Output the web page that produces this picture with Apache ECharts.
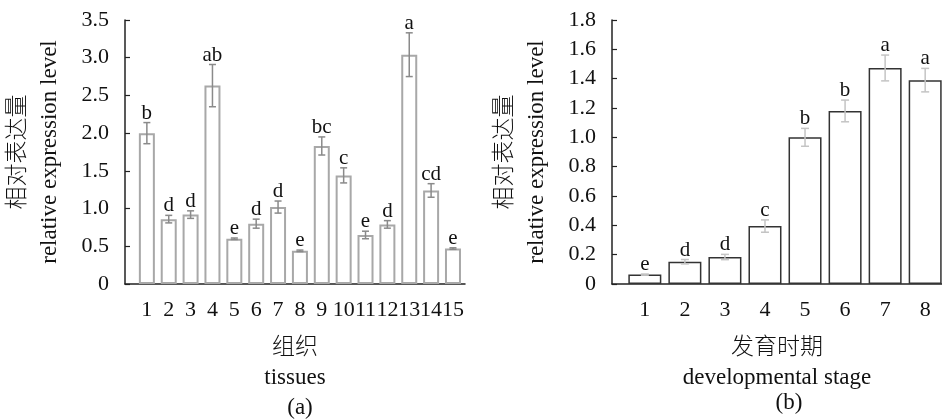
<!DOCTYPE html>
<html>
<head>
<meta charset="utf-8">
<script src="https://cdn.jsdelivr.net/npm/echarts@6/dist/echarts.min.js"></script>
<style>
  html, body { margin: 0; padding: 0; background: #fff; }
  #main { width: 942px; height: 419px; }
</style>
</head>
<body>
<div id="main"></div>
<script>
// (a) tissues
var tissueCats = [1, 2, 3, 4, 5, 6, 7, 8, 9, 10, 11, 12, 13, 14, 15];
var tissueMean = [2.00, 0.86, 0.92, 2.63, 0.60, 0.80, 1.02, 0.44, 1.83, 1.44, 0.65, 0.79, 3.04, 1.24, 0.47];
var tissueErr  = [0.14, 0.05, 0.05, 0.28, 0.01, 0.06, 0.08, 0.01, 0.12, 0.10, 0.05, 0.05, 0.29, 0.09, 0.01];
var tissueLetters = ['b', 'd', 'd', 'ab', 'e', 'd', 'd', 'e', 'bc', 'c', 'e', 'd', 'a', 'cd', 'e'];
var tissueTicks = [0, 0.5, 1.0, 1.5, 2.0, 2.5, 3.0, 3.5];

// (b) developmental stage
var stageCats = [1, 2, 3, 4, 5, 6, 7, 8];
var stageMean = [0.064, 0.152, 0.184, 0.395, 1.00, 1.18, 1.473, 1.39];
var stageErr  = [0.004, 0.015, 0.018, 0.042, 0.061, 0.074, 0.088, 0.08];
var stageLetters = ['e', 'd', 'd', 'c', 'b', 'b', 'a', 'a'];
var stageTicks = [0, 0.2, 0.4, 0.6, 0.8, 1.0, 1.2, 1.4, 1.6, 1.8];

var FONT = "'Liberation Serif', 'Times New Roman', 'Noto Sans CJK SC', serif";

function pairs(cats, vals){
    return cats.map(function(c, i){ return [c, vals[i]]; });
}
function errRows(cats, mean, err){
    return cats.map(function(c, i){ return [c, mean[i] - err[i], mean[i] + err[i]]; });
}

function errorRenderer(letters, color, capHalf){
    return function(params, api){
        var x = api.value(0);
        var top = api.coord([x, api.value(2)]);
        var bot = api.coord([x, api.value(1)]);
        var ls = {stroke: color, lineWidth: 1.5};
        return {
            type: 'group',
            children: [
                {type: 'line', shape: {x1: top[0], y1: top[1], x2: bot[0], y2: bot[1]}, style: ls},
                {type: 'line', shape: {x1: top[0] - capHalf, y1: top[1], x2: top[0] + capHalf, y2: top[1]}, style: ls},
                {type: 'line', shape: {x1: bot[0] - capHalf, y1: bot[1], x2: bot[0] + capHalf, y2: bot[1]}, style: ls},
                {type: 'text', style: {
                    text: letters[params.dataIndex],
                    x: top[0], y: top[1] + 1,
                    align: 'center', verticalAlign: 'bottom',
                    fontSize: 21, fontFamily: FONT, fill: '#111'
                }}
            ]
        };
    };
}

var axisLineStyle = {lineStyle: {color: '#222', width: 1.5}};

function xAxisCfg(idx, min, max, cats, name){
    return {
        type: 'value', gridIndex: idx, min: min, max: max,
        axisLine: axisLineStyle,
        axisTick: {inside: true, length: 4, customValues: cats, lineStyle: {color: '#222', width: 1.2}},
        axisLabel: {customValues: cats, margin: 15, color: '#111', fontSize: 22, fontFamily: FONT},
        splitLine: {show: false},
        name: name, nameLocation: 'middle', nameGap: 49,
        nameTextStyle: {color: '#111', fontSize: 23, lineHeight: 30, fontWeight: 300, fontFamily: FONT}
    };
}

function yAxisCfg(idx, max, interval, decimals){
    return {
        type: 'value', gridIndex: idx, min: 0, max: max, interval: interval,
        axisLine: {show: true, lineStyle: {color: '#222', width: 1.5}},
        axisTick: {show: true, inside: true, length: 5, lineStyle: {color: '#222', width: 1.2}},
        axisLabel: {
            margin: 16, color: '#111', fontSize: 22, fontFamily: FONT,
            formatter: function(v){ return v === 0 ? '0' : v.toFixed(decimals); }
        },
        splitLine: {show: false},
        name: '相对表达量\nrelative expression level',
        nameLocation: 'middle', nameRotate: 90, nameGap: 59,
        nameTextStyle: {color: '#111', fontSize: 23, lineHeight: 32, fontWeight: 300, fontFamily: FONT}
    };
}

var myChart = echarts.init(document.getElementById('main'), null, {renderer: 'canvas'});

var option = {
    animation: false,
    backgroundColor: '#fff',
    title: [
        {text: '(a)', left: 295, top: 391, textAlign: 'center',
         textStyle: {fontSize: 23, fontWeight: 'normal', color: '#111', fontFamily: FONT}},
        {text: '(b)', left: 784, top: 386, textAlign: 'center',
         textStyle: {fontSize: 23, fontWeight: 'normal', color: '#111', fontFamily: FONT}}
    ],
    grid: [
        {left: 125, top: 20, width: 340, height: 264},
        {left: 612, top: 20, width: 330, height: 264}
    ],
    xAxis: [
        xAxisCfg(0, 0, 15.55, tissueCats, '组织\ntissues'),
        xAxisCfg(1, 0.18, 8.42, stageCats, '发育时期\ndevelopmental stage')
    ],
    yAxis: [
        yAxisCfg(0, tissueTicks[tissueTicks.length - 1], 0.5, 1),
        yAxisCfg(1, stageTicks[stageTicks.length - 1], 0.2, 1)
    ],
    series: [
        {
            type: 'bar', xAxisIndex: 0, yAxisIndex: 0, barWidth: 16,
            itemStyle: {color: '#fff', borderColor: '#a8a8a8', borderWidth: 2},
            data: pairs(tissueCats, tissueMean)
        },
        {
            type: 'custom', xAxisIndex: 0, yAxisIndex: 0,
            renderItem: errorRenderer(tissueLetters, '#8a8a8a', 3.5),
            data: errRows(tissueCats, tissueMean, tissueErr), z: 5
        },
        {
            type: 'bar', xAxisIndex: 1, yAxisIndex: 1, barWidth: 33,
            itemStyle: {color: '#fff', borderColor: '#333', borderWidth: 1.5},
            data: pairs(stageCats, stageMean)
        },
        {
            type: 'custom', xAxisIndex: 1, yAxisIndex: 1,
            renderItem: errorRenderer(stageLetters, '#c4c4c4', 4),
            data: errRows(stageCats, stageMean, stageErr), z: 5
        }
    ]
};
myChart.setOption(option);
</script>
</body>
</html>
